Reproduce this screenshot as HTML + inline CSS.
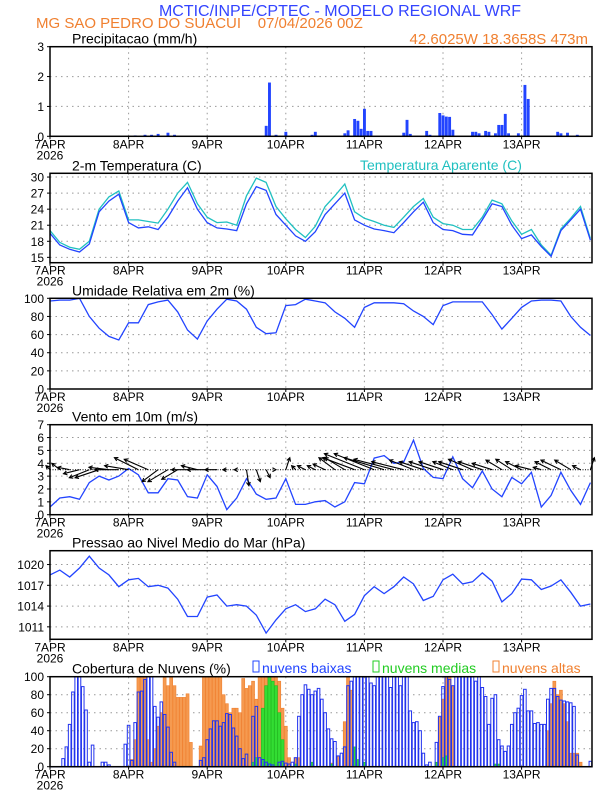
<!DOCTYPE html>
<html><head><meta charset="utf-8">
<style>
body{margin:0;background:#fff;}
svg text{font-family:"Liberation Sans",sans-serif;white-space:pre;}
</style></head>
<body>
<svg id="chart" width="612" height="792" viewBox="0 0 612 792" xmlns="http://www.w3.org/2000/svg" xml:space="preserve">
<text x="340" y="16" text-anchor="middle" font-size="16" fill="#3344ff">MCTIC/INPE/CPTEC - MODELO REGIONAL WRF</text>
<text x="36" y="28" font-size="15" fill="#f08030">MG SAO PEDRO DO SUACUI    07/04/2026 00Z</text>
<text x="588" y="44" text-anchor="end" font-size="15" fill="#f08030">42.6025W 18.3658S 473m</text>
<g id="g"></g>
</svg>
<script>
// ---- data (hours since 07APR 00Z) ----
const dayLabels = ["7APR","8APR","9APR","10APR","11APR","12APR","13APR"];
const hours3 = [0,3,6,9,12,15,18,21,24,27,30,33,36,39,42,45,48,51,54,57,60,63,66,69,72,75,78,81,84,87,90,93,96,99,102,105,108,111,114,117,120,123,126,129,132,135,138,141,144,147,150,153,156,159,162,165];
const temp = [19.5,17.3,16.5,16.0,17.5,23.5,25.5,26.8,21.5,20.5,20.7,20.2,22.5,25.5,28.0,24.0,21.5,20.5,20.3,20.0,25.0,28.2,27.5,23.0,21.0,19.0,18.0,19.8,23.0,25.0,27.0,22.0,21.0,20.3,20.0,19.6,21.5,23.5,25.3,21.5,20.2,20.0,19.3,19.2,22.0,25.0,24.5,21.0,18.5,19.2,17.0,15.2,20.0,22.0,24.0,18.2];
const tempApar = [20.0,17.8,16.9,16.5,18.0,24.0,26.3,27.4,22.0,22.0,21.7,21.4,24.0,27.0,29.0,25.0,22.5,21.5,21.6,21.0,26.5,29.8,29.0,24.5,22.2,20.2,18.7,20.8,24.5,26.5,28.7,23.5,22.3,21.7,21.0,20.6,22.5,24.5,26.0,22.5,21.3,21.0,20.2,20.2,22.5,25.7,25.0,21.8,19.3,20.2,17.3,15.4,20.3,22.3,24.5,18.5];
const rh = [97,98,98,100,80,67,58,54,73,73,93,96,98,85,65,55,75,88,99,97,88,68,61,62,92,93,99,97,95,85,78,68,90,95,95,95,94,86,80,71,92,96,96,96,96,82,66,78,90,97,98,98,97,80,68,59];
const windSpd = [0.6,1.3,1.4,1.2,2.5,3.0,2.7,3.0,3.6,3.1,1.7,1.7,2.8,2.7,1.4,1.3,3.1,2.2,0.4,1.3,2.8,1.6,1.2,1.3,2.8,0.8,0.8,1.0,1.1,0.6,1.0,2.5,2.4,4.4,4.6,4.0,4.1,5.8,3.6,2.9,2.8,4.5,2.8,2.1,3.4,2.0,1.4,2.9,2.4,3.3,0.6,1.5,3.3,1.9,0.8,2.5];
const windU = [-0.5,-1,-1.5,-2,-2.5,-3,-2.5,-3,-3,-3,-3,-2,-2.5,-2,-2,-2,-2.5,-1.5,-0.5,-0.3,0.3,0.5,0.5,0,0.5,-0.5,-1,-1,-1.5,-2,-2.5,-4,-5,-5,-5,-5,-4,-3,-3,-3,-3,-2.5,-3,-3,-3,-2.5,-2,-2,-2,-2,-1,-2,-2.5,-2,-1,0.5];
const windV = [0.5,0.8,0.3,-0.5,-1,-1,0.3,0,0.5,1.5,1.3,-1.5,-1.5,-1.2,0,0.5,0,0,0,0,-2,-1.5,-1,0,1.5,0.5,0.5,0.5,0.7,1.5,1.5,1.5,2,2,1.5,1.3,1,1.2,1,1,1,1,1,1.3,1,0.8,1.2,1.3,1,0.5,0.3,1,1.2,1.2,0.5,1.5];
const pres = [1018.5,1019.2,1018.2,1019.5,1021.2,1019.5,1018.5,1016.8,1017.8,1018.0,1016.8,1017.0,1016.6,1015.0,1012.5,1012.5,1015.3,1015.6,1014.0,1014.2,1014.0,1012.7,1010.1,1012.0,1013.6,1014.2,1013.2,1013.6,1015.0,1014.2,1011.8,1012.8,1015.5,1016.8,1015.8,1016.8,1018.2,1017.2,1014.8,1015.4,1017.8,1018.6,1017.2,1017.5,1018.8,1017.6,1014.6,1015.8,1017.9,1017.8,1016.4,1016.9,1017.8,1016.0,1014.0,1014.3];
const precipHours = [26,29,31,33,36,38,66,67,69,72,80,81,90,91,93,94,95,96,97,98,108,109,110,115,116,119,120,121,122,123,129,130,131,133,134,136,137,138,139,140,143,145,146,155,156,158,161];
const precipVals = [0.03,0.05,0.05,0.08,0.12,0.05,0.35,1.8,0.05,0.15,0.05,0.15,0.1,0.2,0.58,0.52,0.25,0.92,0.18,0.18,0.12,0.55,0.08,0.18,0.05,0.78,0.7,0.66,0.65,0.22,0.15,0.15,0.1,0.18,0.15,0.1,0.38,0.38,0.75,0.1,0.1,1.72,1.25,0.15,0.1,0.12,0.05];
const cloudLow = [0,0,0,0,9,22,47,83,100,100,89,63,5,24,0,0,5,5,2,0,0,0,0,25,
46,7,49,83,84,97,100,100,67,55,72,58,44,16,5,0,0,0,0,0,0,0,7,10,
30,42,51,51,45,49,59,58,43,34,20,9,14,0,56,67,10,8,5,3,2,0,5,6,
4,3,5,10,56,80,91,86,80,84,87,75,60,42,31,28,12,15,22,90,95,100,100,100,
100,100,93,90,100,100,100,100,88,100,100,90,100,100,62,49,50,40,15,2,5,0,27,56,
89,100,97,90,100,100,100,100,100,100,95,100,88,78,47,76,80,30,23,17,23,47,60,65,
79,86,62,62,48,49,47,47,75,87,87,78,74,73,72,71,67,13,0,0,0,6];
const cloudMedHours = [62,63,65,66,67,68,69,70,71,75,80,86,93,94,96,118,120,121,136,137];
const cloudMedVals = [5,10,65,90,100,95,90,60,30,3,5,3,22,8,5,5,10,12,3,3];
const cloudHighHours = [25,26,27,28,29,30,31,32,33,34,35,36,37,38,39,40,41,42,43,46,47,48,49,50,51,52,53,54,55,56,57,58,59,60,61,62,63,64,65,66,67,68,69,70,71,72,73,75,76,86,88,90,91,92,119,120,121,122,123,152,153,154,155,156,157,158,159,160,161,162];
const cloudHighVals = [8,30,100,100,100,30,5,20,45,60,100,90,100,90,77,77,77,81,27,23,100,100,100,100,100,100,80,70,60,65,65,60,98,87,90,95,75,100,100,100,100,100,100,95,65,45,10,10,10,4,12,50,100,85,55,75,100,100,90,40,70,95,80,85,70,50,15,15,15,5];

// ---- layout ----
const X0=50, PXH=3.275;
const X = h => X0 + h*PXH;
const XR = 592;
const NS="http://www.w3.org/2000/svg";
const G=document.getElementById('g');
function mk(tag, attrs, parent){const e=document.createElementNS(NS,tag);for(const k in attrs)e.setAttribute(k,attrs[k]);(parent||G).appendChild(e);return e;}
function txt(s,x,y,size,fill,anchor,parent){const t=mk('text',{x:x,y:y,'font-size':size,fill:fill||'#000','text-anchor':anchor||'start'},parent);t.textContent=s;return t;}

function panel(name, top, bot, vmin, vmax, ticks, title){
  const g=mk('g',{});
  
  
  const Y=v=>bot-(v-vmin)/(vmax-vmin)*(bot-top);
  for(let d=1; d<7; d++){const l=mk('line',{x1:X(d*24),x2:X(d*24),y1:top,y2:bot,stroke:'#999','stroke-dasharray':'1.5,4','stroke-width':1},g);
    }
  ticks.forEach(v=>{
    if(v>vmin && v<vmax){const l=mk('line',{x1:X0,x2:XR,y1:Y(v),y2:Y(v),stroke:'#999','stroke-dasharray':'1.5,4','stroke-width':1},g);
      }
    const t=txt(String(v),44,Y(v)+4.5,12,'#000','end',g);
    
    mk('line',{x1:X0-3,x2:X0,y1:Y(v),y2:Y(v),stroke:'#000'},g);
  });
  dayLabels.forEach((s,i)=>{
    const t=txt(s,X(i*24),bot+12,12,'#000','middle',g);
    
    mk('line',{x1:X(i*24),x2:X(i*24),y1:bot,y2:bot+3,stroke:'#000'},g);
  });
  const yr=txt('2026',X(0),bot+23,12,'#000','middle',g);
  
  const tt=txt(title,72,top-3,14,'#000','start',g);
  
  return {g,Y,top,bot};
}
function frame(p){const r=mk('rect',{x:X0,y:p.top,width:XR-X0,height:p.bot-p.top,fill:'none',stroke:'#000','stroke-width':1.5},p.g);
  }
function line(p, hs, vs, color, name){
  const d=hs.map((h,i)=>(i?'L':'M')+X(h).toFixed(1)+','+p.Y(vs[i]).toFixed(1)).join('');
  const e=mk('path',{d:d,fill:'none',stroke:color,'stroke-width':1.3},p.g);
  
  
}

// Precip
const p1=panel('precip-panel',46.7,136.3,0,3,[0,1,2,3],'Precipitacao (mm/h)');
precipHours.forEach((h,i)=>{
  const r=mk('rect',{x:X(h)-1.4,y:p1.Y(precipVals[i]),width:2.9,height:p1.Y(0)-p1.Y(precipVals[i]),fill:'#2244ff'},p1.g);
  
  
});
frame(p1);

// Temperature
const p2=panel('temperature-panel',173.3,262.7,14,30.7,[15,18,21,24,27,30],'2-m Temperatura (C)');
const ta=txt('Temperatura Aparente (C)',360,170,14,'#20c0c0','start',p2.g);

line(p2,hours3,tempApar,'#20c0c0','apparent-temp-line');
line(p2,hours3,temp,'#2244ff','temp-line');
frame(p2);

// RH
const p3=panel('humidity-panel',298.3,389,0,100,[0,20,40,60,80,100],'Umidade Relativa em 2m (%)');
line(p3,hours3,rh,'#2244ff','humidity-line');
frame(p3);

// Wind
const p4=panel('wind-panel',424.7,514.7,0,7,[0,1,2,3,4,5,6,7],'Vento em 10m (m/s)');
line(p4,hours3,windSpd,'#2244ff','wind-speed-line');
const by=p4.Y(3.5);
mk('line',{x1:X0,x2:XR,y1:by,y2:by,stroke:'#000','stroke-dasharray':'1,1.5'},p4.g);
hours3.forEach((h,i)=>{
  const x1=X(h), y1=by, x2=x1+windU[i]*8, y2=y1-windV[i]*8;
  const a=Math.atan2(y2-y1,x2-x1), L=4;
  const d=`M${x1},${y1}L${x2},${y2}M${x2-L*Math.cos(a-0.5)},${y2-L*Math.sin(a-0.5)}L${x2},${y2}L${x2-L*Math.cos(a+0.5)},${y2-L*Math.sin(a+0.5)}`;
  const e=mk('path',{d:d,stroke:'#000','stroke-width':1.1,fill:'none'},p4.g);
  
  
});
frame(p4);

// Pressure
const p5=panel('pressure-panel',550.7,639.3,1009.2,1022.0,[1011,1014,1017,1020],'Pressao ao Nivel Medio do Mar (hPa)');
line(p5,hours3,pres,'#2244ff','pressure-line');
frame(p5);

// Clouds
const p6=panel('cloud-panel',676.7,766.7,0,100,[0,20,40,60,80,100],'Cobertura de Nuvens (%)');
const lg=mk('g',{},p6.g);

mk('rect',{x:253,y:661,width:6,height:11,fill:'none',stroke:'#2244ff'},lg);
txt('nuvens baixas',262,673,14,'#2244ff','start',lg);
mk('rect',{x:373,y:661,width:6,height:11,fill:'none',stroke:'#22cc22'},lg);
txt('nuvens medias',382,673,14,'#22cc22','start',lg);
mk('rect',{x:493,y:661,width:6,height:11,fill:'none',stroke:'#f08030'},lg);
txt('nuvens altas',502,673,14,'#f08030','start',lg);
cloudHighHours.forEach((h,i)=>{
  const r=mk('rect',{x:X(h)-1.5,y:p6.Y(cloudHighVals[i]),width:3,height:p6.Y(0)-p6.Y(cloudHighVals[i]),fill:'#f59a50',stroke:'#f08030','stroke-width':0.6},p6.g);
  
  
});
cloudMedHours.forEach((h,i)=>{
  const r=mk('rect',{x:X(h)-1.5,y:p6.Y(cloudMedVals[i]),width:3,height:p6.Y(0)-p6.Y(cloudMedVals[i]),fill:'#33dd33',stroke:'#22bb22','stroke-width':0.6},p6.g);
  
  
});
cloudLow.forEach((v,h)=>{
  if(v<=0) return;
  const r=mk('rect',{x:X(h)-1.3,y:p6.Y(v),width:2.6,height:p6.Y(0)-p6.Y(v),fill:'none',stroke:'#2233ee','stroke-width':1},p6.g);
  
  
});
mk('line',{x1:X0,x2:XR,y1:766.7,y2:766.7,stroke:'#2233ee','stroke-width':1.5},p6.g);
frame(p6);
</script>
</body></html>
